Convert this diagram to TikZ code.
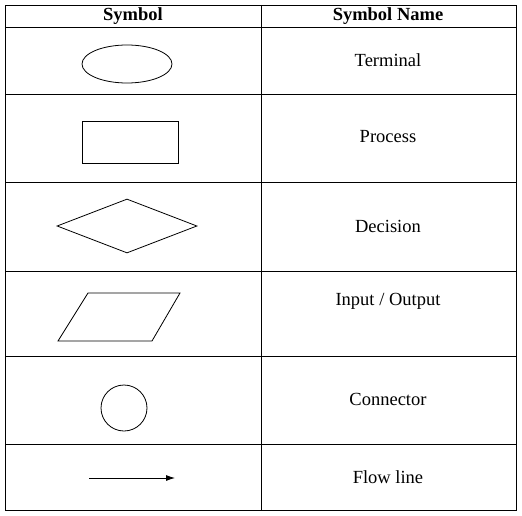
\documentclass[tikz,border=0pt]{standalone}
\usepackage{fontspec}
\setmainfont{Liberation Serif}
\usetikzlibrary{shapes.geometric,arrows.meta}

\tikzset{
  sym/.style={draw,line width=0.8pt,inner sep=0pt},
  symname/.style={font=\fontsize{18.5}{20}\selectfont},
  headtxt/.style={font=\bfseries\fontsize{18.5}{20}\selectfont}
}

\begin{document}
\begin{tikzpicture}[x=1pt,y=-1pt,line width=0.8pt]
   \useasboundingbox (0,0) rectangle (522,516);
   % table frame
   \draw (5,5) rectangle (516,510);
   \draw (261,5) -- (261,510);
   \foreach \y in {27,94,182,271,356,444}
     \draw (5,\y) -- (516,\y);

   % header
   \node[headtxt] (hsym) at (133,16) {Symbol};
   \node[headtxt] (hname) at (388,16) {Symbol Name};

   % symbols
   \node[sym,ellipse,minimum width=90pt,minimum height=38pt] (term) at (127,64) {};
   \node[sym,rectangle,minimum width=96pt,minimum height=42pt] (proc) at (130,142) {};
   \node[sym,diamond,minimum width=140pt,minimum height=54pt] (dec) at (127,226) {};
   \draw (58,341) -- (152,341) -- (180,293) -- (88,293) -- cycle;
   \node[sym,circle,minimum size=46pt] (conn) at (124,408) {};
   \coordinate (fa) at (89,478);
   \coordinate (fb) at (175,478);
   \draw[-{Latex[length=9pt,width=6pt]}] (fa) -- (fb);

   % names
   \node[symname] (nterm) at (388,60) {Terminal};
   \node[symname] (nproc) at (388,137) {Process};
   \node[symname] (ndec) at (388,226) {Decision};
   \node[symname] (nio) at (388,301) {Input / Output};
   \node[symname] (nconn) at (388,399) {Connector};
   \node[symname] (nflow) at (388,477) {Flow line};
\end{tikzpicture}
\end{document}
